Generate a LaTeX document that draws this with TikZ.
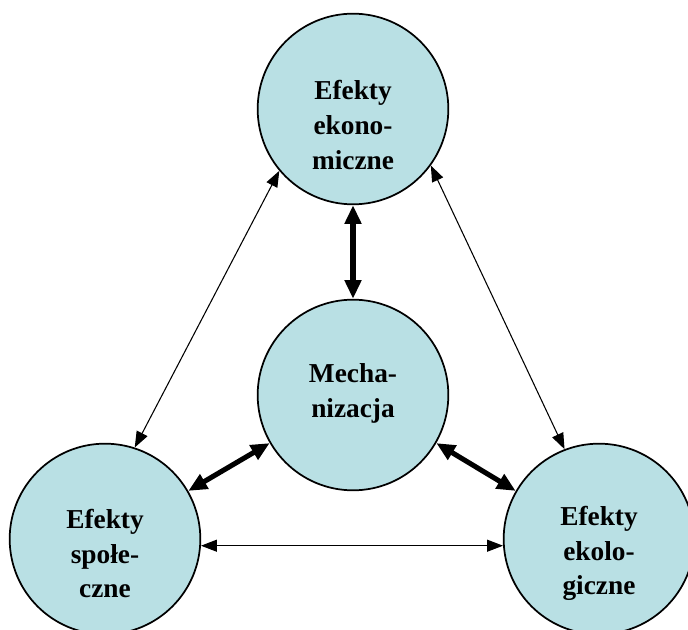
\documentclass[tikz,border=0pt]{standalone}
\usepackage{fontspec}
\setmainfont{Liberation Serif}
\usetikzlibrary{arrows.meta}
\definecolor{circleFill}{RGB}{185,224,228}
\definecolor{body}{RGB}{0,0,0}

\begin{document}
\begin{tikzpicture}[x=0.75pt, y=-0.75pt,
  effect/.style={circle, draw=body, line width=1.3pt, fill=circleFill, minimum size=143pt, inner sep=0pt},
  label text/.style={font=\fontsize{20.5}{26}\selectfont\bfseries, body, align=center},
  thin link/.style={{Triangle[length=12pt,width=9pt]}-{Triangle[length=12pt,width=9pt]}, line width=0.8pt, body},
  thick link/.style={{Triangle[length=14pt,width=12pt]}-{Triangle[length=14pt,width=12pt]}, line width=3.8pt, body}]

\useasboundingbox (0,0) rectangle (688,630);

% ── Circles ──
\node[effect] (eko) at (353,109) {};
\node[effect] (mech) at (353,395) {};
\node[effect] (spo) at (105,539) {};
\node[effect] (ekl) at (599,539) {};

% ── Texts ──
\node[label text] (eko-txt) at ([yshift=-12pt]eko.center) {Efekty\\ekono-\\miczne};
\node[label text] (mech-txt) at ([yshift=1pt]mech.center) {Mecha-\\nizacja};
\node[label text] (spo-txt) at ([yshift=-11pt]spo.center) {Efekty\\społe-\\czne};
\node[label text] (ekl-txt) at ([yshift=-11pt]ekl.center) {Efekty\\ekolo-\\giczne};

% ── Outer links ──
\draw[thin link] (eko.220.4) -- (spo.72.6);
\draw[thin link] (eko.324.7) -- (ekl.111.5);
\draw[thin link] (spo.-4) -- (ekl.184);

% ── Links to the centre ──
\draw[thick link] (eko.south) -- (mech.north);
\draw[thick link] (spo.30) -- (mech.210);
\draw[thick link] (mech.330) -- (ekl.150);

\end{tikzpicture}
\end{document}
